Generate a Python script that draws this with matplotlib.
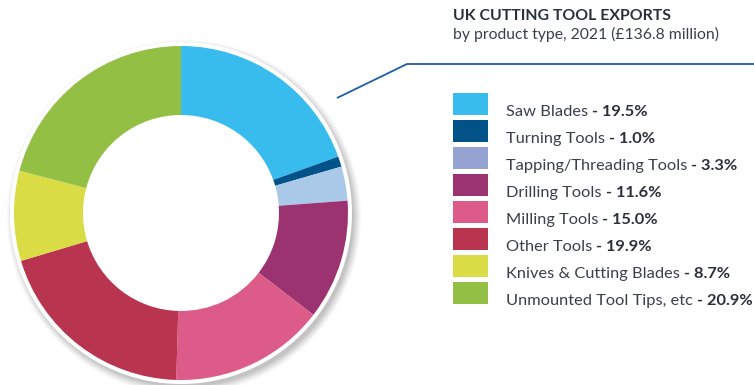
import matplotlib
matplotlib.use("Agg")
import matplotlib.pyplot as plt
from matplotlib.patches import Circle, Rectangle

categories = ["Saw Blades", "Turning Tools", "Tapping/Threading Tools", "Drilling Tools",
              "Milling Tools", "Other Tools", "Knives & Cutting Blades", "Unmounted Tool Tips, etc"]
values = [19.5, 1.0, 3.3, 11.6, 15.0, 19.9, 8.7, 20.9]
slice_colors = ["#38BCEE", "#005289", "#AAC8E8", "#9B3370", "#DD5B88", "#B9344E", "#D9DC44", "#93BF45"]
legend_colors = ["#38BCEE", "#005289", "#95A3D3", "#9B3370", "#DD5B88", "#B9344E", "#D9DC44", "#93BF45"]
title = "UK CUTTING TOOL EXPORTS"
subtitle = "by product type, 2021 (£136.8 million)"

W, H = 754, 385
plt.rcParams['font.family'] = ['Lato', 'DejaVu Sans']
fig = plt.figure(figsize=(W / 100, H / 100), dpi=100)
ax = fig.add_axes([0, 0, 1, 1])
ax.set_xlim(0, W)
ax.set_ylim(0, H)
ax.set_aspect('equal')
ax.axis('off')

cx, cy = 181, H - 213
R = 167
# soft shadow
for i, a in enumerate([0.04, 0.05, 0.06, 0.07, 0.08, 0.09]):
    ax.add_patch(Circle((cx + 3, cy - 4), R + 10 - i * 1.4, color='#555555', alpha=a, lw=0, zorder=1))
ax.add_patch(Circle((cx, cy), R + 4, color='white', lw=0, zorder=2))

wedges, _ = ax.pie(values, colors=slice_colors, startangle=90, counterclock=False,
                   radius=R, center=(cx, cy), frame=True,
                   wedgeprops=dict(width=69, linewidth=0, edgecolor='none'))
for w in wedges:
    w.set_zorder(3)
ax.set_xlim(0, W)
ax.set_ylim(0, H)
ax.axis('off')

# leader line
ax.plot([337, 407, W], [H - 98, H - 64, H - 64], color='#1F5DA8', lw=1.3, zorder=4,
        solid_capstyle='butt')

# title
ax.text(453, H - 20.5, title, fontsize=11.4, fontweight='bold', color='#2B303B',
        ha='left', va='baseline')
ax.text(453, H - 39.5, subtitle, fontsize=11.3, color='#3A3F4A', ha='left', va='baseline')

# legend
fs = 11.8
pitch = 27
for i, (cat, val, col) in enumerate(zip(categories, values, legend_colors)):
    ytop = 93 + i * pitch
    ax.add_patch(Rectangle((453, H - ytop - 22), 35, 22, color=col, lw=0))
    t = ax.text(506, H - (116.3 + i * pitch), cat, fontsize=fs, color='#3A3F4A',
                ha='left', va='baseline')
    ax.annotate(f" - {val:.1f}%", xy=(1, 0), xycoords=t, fontsize=fs, fontweight='bold',
                color='#2B303B', ha='left', va='bottom')

fig.savefig("out.png", dpi=100)
